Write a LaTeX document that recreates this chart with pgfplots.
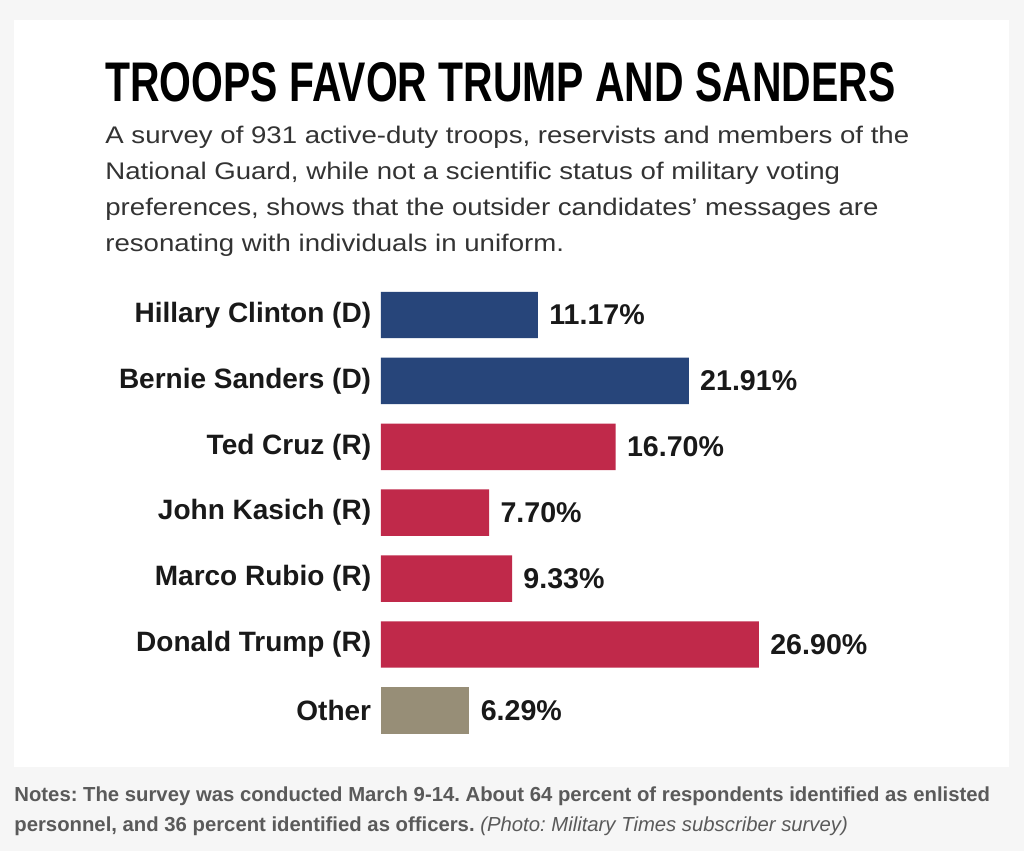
\documentclass[border=0pt]{standalone}
\usepackage{pgfplots}
\pgfplotsset{compat=1.18}
\usepackage{fontspec}
\setmainfont{Liberation Sans}
\definecolor{bgc}{HTML}{F6F6F6}
\definecolor{dblue}{HTML}{27457A}
\definecolor{rred}{HTML}{C0294A}
\definecolor{otherc}{HTML}{978E77}
\definecolor{notegray}{HTML}{5A5A5A}
\definecolor{bodyc}{HTML}{333333}
\begin{document}
\frenchspacing
\begin{tikzpicture}
\useasboundingbox (0pt,0pt) rectangle (512pt,425.5pt);
\fill[bgc] (0pt,0pt) rectangle (512pt,425.5pt);
\fill[white] (7pt,42pt) rectangle (504.5pt,415.5pt);
\node[anchor=base west, inner sep=0pt] at (52.5pt,374.5pt) {\resizebox{395pt}{19.5pt}{\bfseries TROOPS FAVOR TRUMP AND SANDERS}};
\begin{scope}[every node/.style={anchor=base west, inner sep=0pt, text=bodyc, font=\fontsize{12}{14}\selectfont}]
\node at (52.5pt,353.5pt) {\scalebox{1.15}[1]{A survey of 931 active-duty troops, reservists and members of the}};
\node at (52.5pt,335.5pt) {\scalebox{1.15}[1]{National Guard, while not a scientific status of military voting}};
\node at (52.5pt,317.5pt) {\scalebox{1.15}[1]{preferences, shows that the outsider candidates’ messages are}};
\node at (52.5pt,299.5pt) {\scalebox{1.15}[1]{resonating with individuals in uniform.}};
\end{scope}
\begin{axis}[
  at={(190.5pt,53.825pt)}, anchor=south west,
  scale only axis, width=281pt, height=230.65pt,
  xmin=0, xmax=40, ymin=-0.5, ymax=6.5, y dir=reverse,
  axis line style={draw=none}, clip=false,
  xtick=\empty,
  xbar, bar width=0.705, bar shift=0pt,
  ytick={0,...,6},
  yticklabels={Hillary Clinton (D),Bernie Sanders (D),Ted Cruz (R),John Kasich (R),Marco Rubio (R),Donald Trump (R),Other},
  tick style={draw=none}, major tick length=0pt,
  yticklabel style={anchor=east, inner sep=0pt, xshift=-4.75pt, font=\fontsize{14}{15}\selectfont\bfseries, text=black!90},
  point meta=explicit symbolic,
  nodes near coords,
  every node near coord/.append style={anchor=west, inner sep=0pt, xshift=5.5pt, font=\fontsize{14.3}{15}\selectfont\bfseries, text=black!90},
]
\addplot[draw=none, fill=dblue] coordinates {(11.17,0) [11.17\%] (21.91,1) [21.91\%]};
\addplot[draw=none, fill=rred] coordinates {(16.70,2) [16.70\%] (7.70,3) [7.70\%] (9.33,4) [9.33\%] (26.90,5) [26.90\%]};
\addplot[draw=none, fill=otherc] coordinates {(6.29,6) [6.29\%]};
\end{axis}
\begin{scope}[every node/.style={anchor=base west, inner sep=0pt, text=notegray, font=\fontsize{10.15}{12}\selectfont}]
\node at (7pt,24.5pt) {\bfseries Notes: The survey was conducted March 9-14. About 64 percent of respondents identified as enlisted};
\node at (7pt,9.5pt) {\bfseries personnel, and 36 percent identified as officers. \mdseries\itshape (Photo: Military Times subscriber survey)};
\end{scope}
\end{tikzpicture}
\end{document}
